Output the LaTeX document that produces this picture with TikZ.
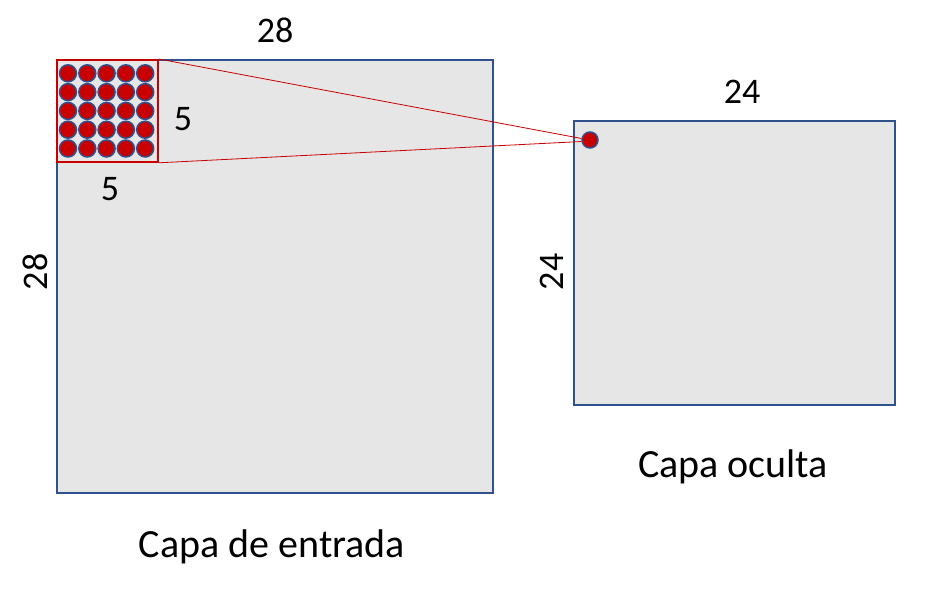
\documentclass[tikz,border=0pt]{standalone}
\usepackage{fontspec}
\setmainfont{Carlito}
\usetikzlibrary{positioning}

\definecolor{capaazul}{RGB}{47,82,143}
\definecolor{capagris}{RGB}{230,230,230}
\definecolor{caparojo}{RGB}{200,0,0}

\tikzset{
  capa/.style={draw=capaazul, fill=capagris, line width=1.8pt, inner sep=0pt, anchor=north west},
  ventana/.style={draw=caparojo, line width=1.8pt, inner sep=0pt, anchor=north west},
  celda/.style={circle, draw=capaazul, fill=caparojo, line width=1.5pt, inner sep=0pt, minimum size=17pt},
  rayo/.style={caparojo, line width=0.8pt},
  rotulo/.style={anchor=base, inner sep=0pt},
  nombre/.style={anchor=base, inner sep=0pt, font=\fontsize{40}{44}\selectfont},
}

\begin{document}
\begin{tikzpicture}[x=1pt,y=-1pt,font=\fontsize{36}{40}\selectfont]

\useasboundingbox (0,0) rectangle (945,602);

% \draw input layer
\node[capa, minimum width=436pt, minimum height=433pt] (entrada) at (56,59) {};
% \draw hidden layer
\node[capa, minimum width=321pt, minimum height=284pt] (oculta) at (573,120) {};

% \draw receptive field
\node[ventana, minimum width=101pt, minimum height=102pt] (campo) at (56,59) {};

% \draw input cells
\foreach \i in {0,...,4} {
  \foreach \j in {0,...,4} {
    \node[celda] (c\i\j) at ({68+19.3*\i},{73.3+18.8*\j}) {};
  }
}

% \draw hidden neuron
\node[celda, minimum size=16pt] (neurona) at (590,140) {};

% \draw lines
\draw[rayo] (campo.north east) -- (neurona.170);
\draw[rayo] (campo.south east) -- (neurona.190);

% \draw labels
\node[rotulo] (anchoE) at (275,43) {28};
\node[rotulo] (altoC) at (183,130) {5};
\node[rotulo] (anchoC) at (110,200) {5};
\node[rotate=90, inner sep=0pt] (altoE) at (35,272) {28};
\node[rotulo] (anchoO) at (742,103) {24};
\node[rotate=90, inner sep=0pt] (altoO) at (552,272) {24};
\node[nombre] (nomO) at (733,477) {Capa oculta};
\node[nombre] (nomE) at (272,557) {Capa de entrada};

\end{tikzpicture}
\end{document}
